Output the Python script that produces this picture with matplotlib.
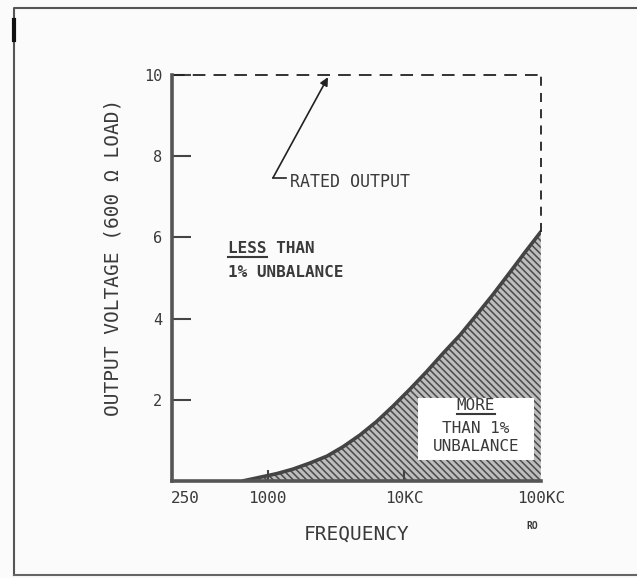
import matplotlib
matplotlib.use("Agg")
import matplotlib.pyplot as plt
from matplotlib.lines import Line2D

# curve separating <1% and >1% unbalance
freq = [661, 881, 1172, 1535, 2045, 2722, 3565, 4747, 6318, 8275, 11020,
        14670, 19200, 25570, 34050, 44590, 59400, 76400, 100000]
volts = [0, 0.09, 0.18, 0.29, 0.44, 0.61, 0.84, 1.13, 1.47, 1.84, 2.26,
         2.70, 3.14, 3.59, 4.10, 4.59, 5.14, 5.63, 6.14]

rated_v = 10
x_ticks = [250, 1000, 10000, 100000]
x_labels = ['250', '1000', '10KC', '100KC']
y_ticks = [2, 4, 6, 8, 10]

ink = '#3a3a3a'
font = 'DejaVu Sans Mono'
plt.rcParams['hatch.linewidth'] = 1.1
plt.rcParams['hatch.color'] = '#4a4a4a'

fig = plt.figure(figsize=(6.37, 5.78), dpi=100, facecolor='#fbfbfb')
ax = fig.add_axes([0.270, 0.168, 0.579, 0.702])
ax.set_facecolor('none')

ax.set_xscale('log')
ax.set_xlim(200, 100000)
ax.set_ylim(0, 10)

# shaded region (more than 1% unbalance)
ax.fill_between(freq, 0, volts, facecolor='#bdbdbd', edgecolor='#4a4a4a',
                hatch='\\\\\\\\\\', linewidth=0, zorder=1)
ax.plot(freq, volts, color='#444444', lw=2.6, zorder=3, solid_capstyle='round')

# rated output: dashed box
ax.plot([200, freq[-1]], [rated_v, rated_v], color='#222222', lw=1.3,
        ls=(0, (7, 4.5)), clip_on=False, zorder=3)
ax.plot([freq[-1], freq[-1]], [volts[-1], rated_v], color='#222222', lw=1.3,
        ls=(0, (5, 4)), clip_on=False, zorder=3)

for s in ['top', 'right']:
    ax.spines[s].set_visible(False)
for s in ['left', 'bottom']:
    ax.spines[s].set_color('#555555')
    ax.spines[s].set_linewidth(2.6)
    ax.spines[s].set_zorder(4)

ax.set_yticks(y_ticks)
ax.set_yticklabels([str(v) for v in y_ticks], fontfamily=font, fontsize=11, color=ink)
ax.tick_params(axis='y', direction='in', length=14, width=1.5, color='#444444', pad=7)
ax.set_xticks(x_ticks)
ax.set_xticklabels(x_labels, fontfamily=font, fontsize=11.5, color=ink)
ax.tick_params(axis='x', direction='in', length=8, width=1.5, color='#444444', pad=7)
ax.xaxis.set_minor_locator(matplotlib.ticker.NullLocator())
xt = ax.xaxis.get_major_ticks()
xt[0].tick1line.set_visible(False)
xt[-1].tick1line.set_visible(False)

ax.set_ylabel('OUTPUT VOLTAGE (600 Ω LOAD)', fontfamily=font, fontsize=14,
              color=ink, labelpad=24)
ax.yaxis.set_label_coords(-0.135, 0.55)
ax.set_xlabel('FREQUENCY', fontfamily=font, fontsize=14, color=ink, labelpad=14)

# rated output annotation
ax.text(1460, 7.37, 'RATED OUTPUT', fontfamily=font, fontsize=12, color=ink,
        va='center', ha='left')
ax.plot([1097, 1365], [7.47, 7.47], color='#222222', lw=1.2)
ax.annotate('', xy=(2770, 9.95), xytext=(1097, 7.47),
            arrowprops=dict(arrowstyle='-|>', color='#222222', lw=1.2,
                            mutation_scale=12, shrinkA=0, shrinkB=0))

less = ax.text(514, 5.72, 'LESS THAN', fontfamily=font, fontsize=11.5,
               color=ink, va='center', ha='left', fontweight='bold')
ax.text(514, 5.14, '1% UNBALANCE', fontfamily=font, fontsize=11.5,
        color=ink, va='center', ha='left', fontweight='bold')

ax.text(33500, 1.28, 'THAN 1%', fontfamily=font, fontsize=11.5, color=ink,
        va='center', ha='center', zorder=5,
        bbox=dict(facecolor='white', edgecolor='none', boxstyle='square,pad=1.5'))
more = ax.text(33500, 1.87, 'MORE', fontfamily=font, fontsize=11.5, color=ink,
               va='center', ha='center', zorder=6)
ax.text(33500, 0.86, 'UNBALANCE', fontfamily=font, fontsize=11.5, color=ink,
        va='center', ha='center', zorder=6)

fig.text(0.826, 0.085, 'RO', fontfamily=font, fontsize=7, color=ink,
         fontweight='bold')

# underline LESS and MORE
fig.canvas.draw()
inv = fig.transFigure.inverted()
for t, frac in [(less, 4 / 9), (more, 1.0)]:
    bb = t.get_window_extent()
    x0, y0 = inv.transform((bb.x0, bb.y0 - 1))
    x1, _ = inv.transform((bb.x0 + bb.width * frac, bb.y0))
    fig.add_artist(Line2D([x0, x1], [y0, y0], color=ink, lw=1.5, zorder=7))

# scan page frame
fig.add_artist(Line2D([0.022, 0.022, 1.0], [0.005, 0.986, 0.986], color='#555555', lw=1.5))
fig.add_artist(Line2D([0.022, 1.0], [0.005, 0.005], color='#666666', lw=1.5))
fig.add_artist(Line2D([0.022, 0.022], [0.93, 0.965], color='#111111', lw=3))

fig.savefig('out.png', dpi=100, facecolor=fig.get_facecolor())
